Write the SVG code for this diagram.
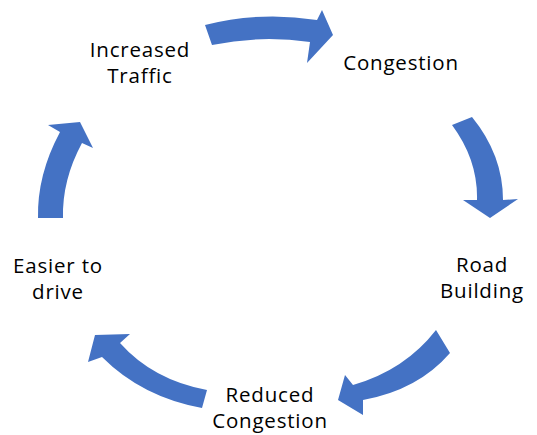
<svg xmlns="http://www.w3.org/2000/svg" width="537" height="435" viewBox="0 0 537 435">
<style>
.a{fill:#4472C4;stroke:none}
text{font-family:"Open Sans","Noto Sans","DejaVu Sans",sans-serif;font-size:20.5px;letter-spacing:0.8px;fill:#000;text-anchor:middle}
</style>
<rect width="537" height="435" fill="#fff"/>
<g id="connectors">
<path class="a" d="M205,25 Q260,11 317,20 L322,10 L333,35 L307,63 L310,42 Q260,35 212,45 Z"/>
<path class="a" d="M452,125 L472,117 Q503,155 503,200 L518,199 L490,218 L463,200 L477,200 Q478,160 452,125 Z"/>
<path class="a" d="M436,330 L450,353 Q418,390 363,400 L363,415 L338,400 L345,375 L353,385 Q405,370 436,330 Z"/>
<path class="a" d="M207,390 L202,408 Q142,397 102,357 L88,362 L95,335 L130,334 L120,343 Q153,380 207,390 Z"/>
<path class="a" d="M38,218 Q37,175 60,132 L48,125 L80,122 L93,148 L82,143 Q62,180 63,218 Z"/>
</g>
<g id="node-increased-traffic"><text x="140" y="57">Increased</text><text x="140" y="83">Traffic</text></g>
<g id="node-congestion"><text x="401" y="70">Congestion</text></g>
<g id="node-road-building"><text x="482" y="272">Road</text><text x="482" y="298">Building</text></g>
<g id="node-reduced-congestion"><text x="270" y="402">Reduced</text><text x="270" y="428">Congestion</text></g>
<g id="node-easier-to-drive"><text x="58" y="273">Easier to</text><text x="58" y="299">drive</text></g>
</svg>
